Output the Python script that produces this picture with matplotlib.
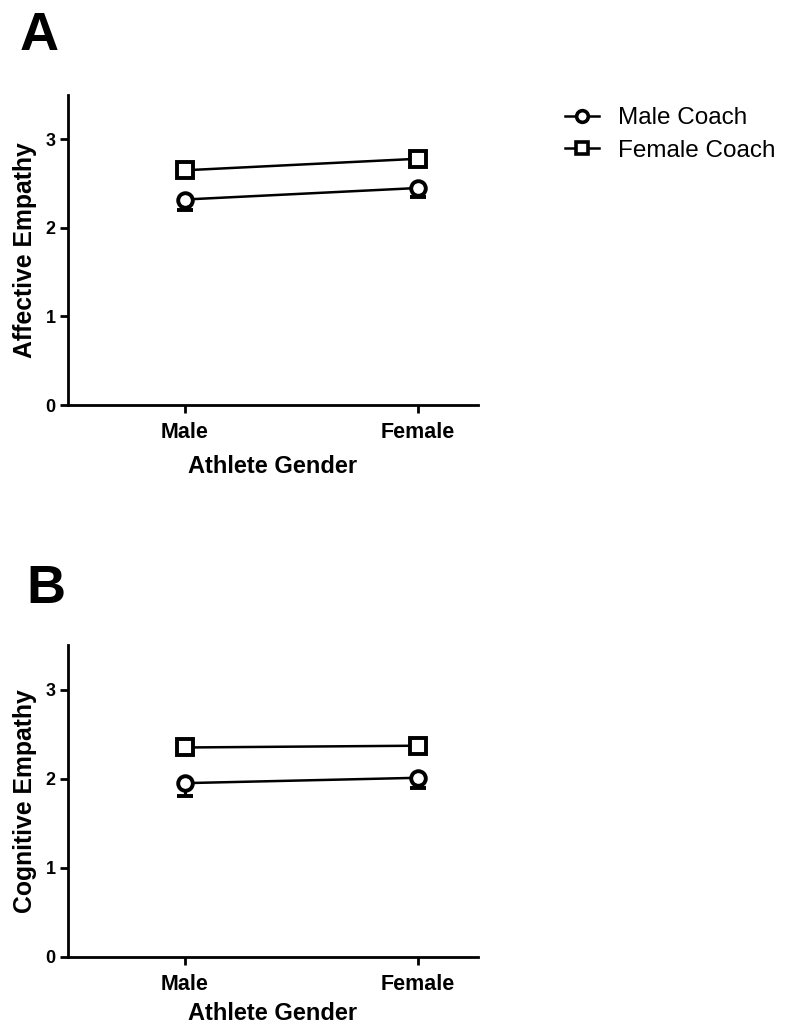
import matplotlib
matplotlib.use("Agg")
import matplotlib.pyplot as plt
from matplotlib.lines import Line2D

plt.rcParams['font.family'] = ['Liberation Sans', 'DejaVu Sans']

athlete_gender = ["Male", "Female"]
series_names = ["Male Coach", "Female Coach"]

# Panel A: Affective Empathy
affective_male_coach = [2.32, 2.45]
affective_male_coach_err = [0.12, 0.10]
affective_female_coach = [2.65, 2.78]
affective_female_coach_err = [0.05, 0.05]

# Panel B: Cognitive Empathy
cognitive_male_coach = [1.95, 2.01]
cognitive_male_coach_err = [0.14, 0.12]
cognitive_female_coach = [2.35, 2.37]
cognitive_female_coach_err = [0.05, 0.05]

y_ticks = [0, 1, 2, 3]

fig = plt.figure(figsize=(7.85, 10.28), dpi=100)
axA = fig.add_axes([0.0866, 0.606, 0.522, 0.3016])
axB = fig.add_axes([0.0866, 0.0691, 0.522, 0.3035])

markers = {"Male Coach": ("o", 10.5), "Female Coach": ("s", 11.5)}

def draw(ax, mc, mce, fc, fce, ylabel, xpad):
    x = list(range(len(athlete_gender)))
    for vals, errs, name in [(mc, mce, "Male Coach"), (fc, fce, "Female Coach")]:
        m, ms = markers[name]
        ax.errorbar(x, vals, yerr=[errs, [0] * len(errs)], fmt='none', ecolor='black',
                    elinewidth=2.2, capsize=6, capthick=2.8, zorder=2)
        ax.plot(x, vals, color='black', lw=1.8, marker=m, ms=ms, mfc='white',
                mec='black', mew=2.8, zorder=3, label=name)
    ax.set_xlim(-0.502, 1.257)
    ax.set_ylim(0, 3.5)
    ax.set_xticks(x)
    ax.set_xticklabels(athlete_gender, fontsize=15.5, fontweight='bold')
    ax.set_yticks(y_ticks)
    ax.set_yticklabels([str(t) for t in y_ticks], fontsize=13, fontweight='bold')
    ax.spines['top'].set_visible(False)
    ax.spines['right'].set_visible(False)
    for s in ['left', 'bottom']:
        ax.spines[s].set_linewidth(2.0)
    ax.tick_params(axis='both', direction='out', length=6, width=2.0, pad=3)
    ax.tick_params(axis='x', pad=6)
    ax.set_xlabel("Athlete Gender", fontsize=17, fontweight='bold', labelpad=xpad)
    ax.set_ylabel(ylabel, fontsize=17.8, fontweight='bold', labelpad=6)

draw(axA, affective_male_coach, affective_male_coach_err,
     affective_female_coach, affective_female_coach_err, "Affective Empathy", 9)
draw(axB, cognitive_male_coach, cognitive_male_coach_err,
     cognitive_female_coach, cognitive_female_coach_err, "Cognitive Empathy", 5)

fig.text(20 / 785, 1 - 50 / 1028, "A", fontsize=39, fontweight='bold', ha='left', va='baseline')
fig.text(26 / 785, 1 - 603 / 1028, "B", fontsize=39, fontweight='bold', ha='left', va='baseline')

handles = [Line2D([0], [0], color='black', lw=1.8, marker=markers[n][0], ms=markers[n][1] * 0.8,
                  mfc='white', mec='black', mew=2.6) for n in series_names]
fig.legend(handles, series_names, loc='upper left', bbox_to_anchor=(565 / 785, 1 - 107 / 1028),
           frameon=False, fontsize=17.5, handlelength=1.4, handletextpad=0.8,
           borderpad=0, borderaxespad=0, labelspacing=0.45)

fig.savefig("out.png", dpi=100)
